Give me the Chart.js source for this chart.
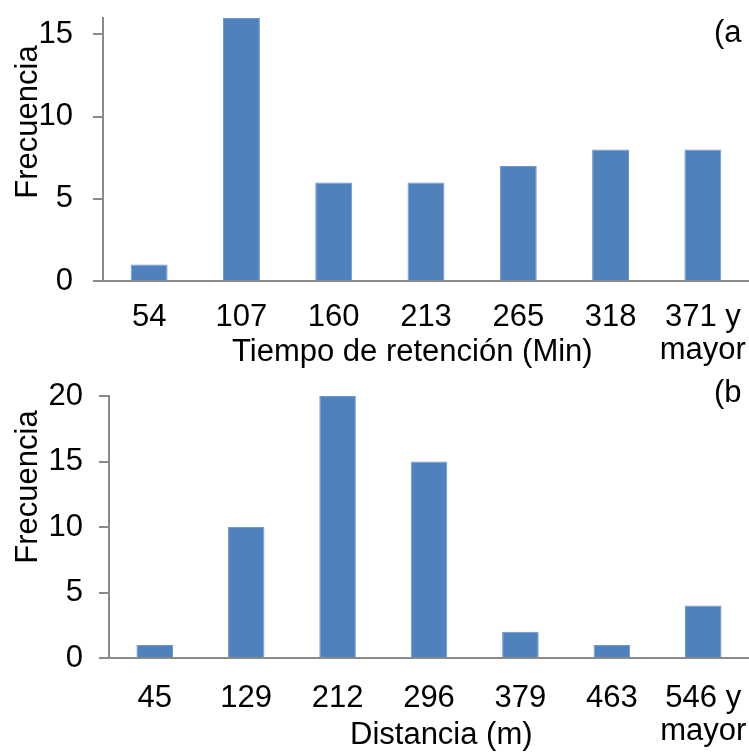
<!DOCTYPE html>
<html>
<head>
<meta charset="utf-8">
<script src="https://cdn.jsdelivr.net/npm/chart.js@4.4.1/dist/chart.umd.min.js"></script>
<style>
  html, body { margin: 0; padding: 0; background: #ffffff; }
  .panel { position: relative; width: 749px; height: 376px; }
</style>
</head>
<body>
<div class="panel"><canvas id="chartA"></canvas></div>
<div class="panel"><canvas id="chartB"></canvas></div>
<script>
// Histogram (a): retention time bins
const retentionBins = ['54', '107', '160', '213', '265', '318', ['371 y', 'mayor']];
const retentionCounts = [1, 16, 6, 6, 7, 8, 8];
const retentionTicks = [0, 5, 10, 15];

// Histogram (b): distance bins
const distanceBins = ['45', '129', '212', '296', '379', '463', ['546 y', 'mayor']];
const distanceCounts = [1, 10, 20, 15, 2, 1, 4];
const distanceTicks = [0, 5, 10, 15, 20];

const FONT = '"Liberation Sans", Arial, sans-serif';
const AXIS_GRAY = '#8a8a8a';
const BAR_BLUE = '#4F81BD';

Chart.defaults.font.family = FONT;
Chart.defaults.color = '#000000';

// Draws free-standing captions (axis titles, panel letters) at fixed spots.
const captions = {
  id: 'captions',
  afterDraw(chart, args, opts) {
    const ctx = chart.ctx;
    (opts.items || []).forEach(it => {
      ctx.save();
      ctx.font = it.size + 'px ' + FONT;
      ctx.fillStyle = '#000000';
      ctx.textAlign = it.align || 'left';
      ctx.textBaseline = 'alphabetic';
      ctx.translate(it.x, it.y);
      if (it.rotate) ctx.rotate(it.rotate);
      ctx.fillText(it.text, 0, 0);
      ctx.restore();
    });
  }
};

// The plot box is fixed, so drop the extra room scales ask for around edge labels.
function noEdgePadding(s) {
  s.paddingTop = 0;
  s.paddingBottom = 0;
  s.paddingLeft = 0;
  s.paddingRight = 0;
}

function histogram(canvasId, labels, counts, tickValues, yMax, geo, items) {
  return new Chart(document.getElementById(canvasId), {
    type: 'bar',
    data: {
      labels: labels,
      datasets: [{
        data: counts,
        backgroundColor: BAR_BLUE,
        borderColor: '#6d98cc',
        borderWidth: 1,
        barPercentage: 0.4,
        categoryPercentage: 1.0
      }]
    },
    options: {
      responsive: true,
      maintainAspectRatio: false,
      animation: false,
      layout: { autoPadding: false, padding: { top: geo.top, right: 0, bottom: 0, left: 0 } },
      plugins: {
        legend: { display: false },
        tooltip: { enabled: false },
        captions: { items: items }
      },
      scales: {
        x: {
          afterFit: s => { s.height = geo.xHeight; noEdgePadding(s); },
          grid: { display: false, drawTicks: false },
          border: { display: true, color: AXIS_GRAY, width: 2 },
          ticks: {
            font: { size: 31, lineHeight: 1.065 },
            color: '#000000',
            padding: geo.xPad,
            maxRotation: 0,
            minRotation: 0,
            autoSkip: false
          }
        },
        y: {
          min: 0,
          max: yMax,
          afterBuildTicks: s => { s.ticks = tickValues.map(v => ({ value: v })); },
          afterFit: s => { s.width = geo.yWidth; noEdgePadding(s); },
          grid: { drawOnChartArea: false, drawTicks: true, tickLength: 10, color: AXIS_GRAY, lineWidth: 2 },
          border: { display: true, color: AXIS_GRAY, width: 2 },
          ticks: { font: { size: 31 }, color: '#000000', padding: geo.yPad }
        }
      }
    },
    plugins: [captions]
  });
}

histogram('chartA', retentionBins, retentionCounts, retentionTicks, 16,
  { top: 18, xHeight: 95, yWidth: 103, xPad: 20, yPad: 20 },
  [
    { text: 'Frecuencia', x: 37, y: 122, size: 31, align: 'center', rotate: -Math.PI / 2 },
    { text: 'Tiempo de retención (Min)', x: 232, y: 361, size: 31 },
    { text: '(a', x: 714, y: 42, size: 31 }
  ]);

histogram('chartB', distanceBins, distanceCounts, distanceTicks, 20,
  { top: 20, xHeight: 94, yWidth: 109, xPad: 24, yPad: 16 },
  [
    { text: 'Frecuencia', x: 37, y: 111, size: 31, align: 'center', rotate: -Math.PI / 2 },
    { text: 'Distancia (m)', x: 350, y: 368, size: 31 },
    { text: '(b', x: 714, y: 26, size: 31 }
  ]);
</script>
</body>
</html>
